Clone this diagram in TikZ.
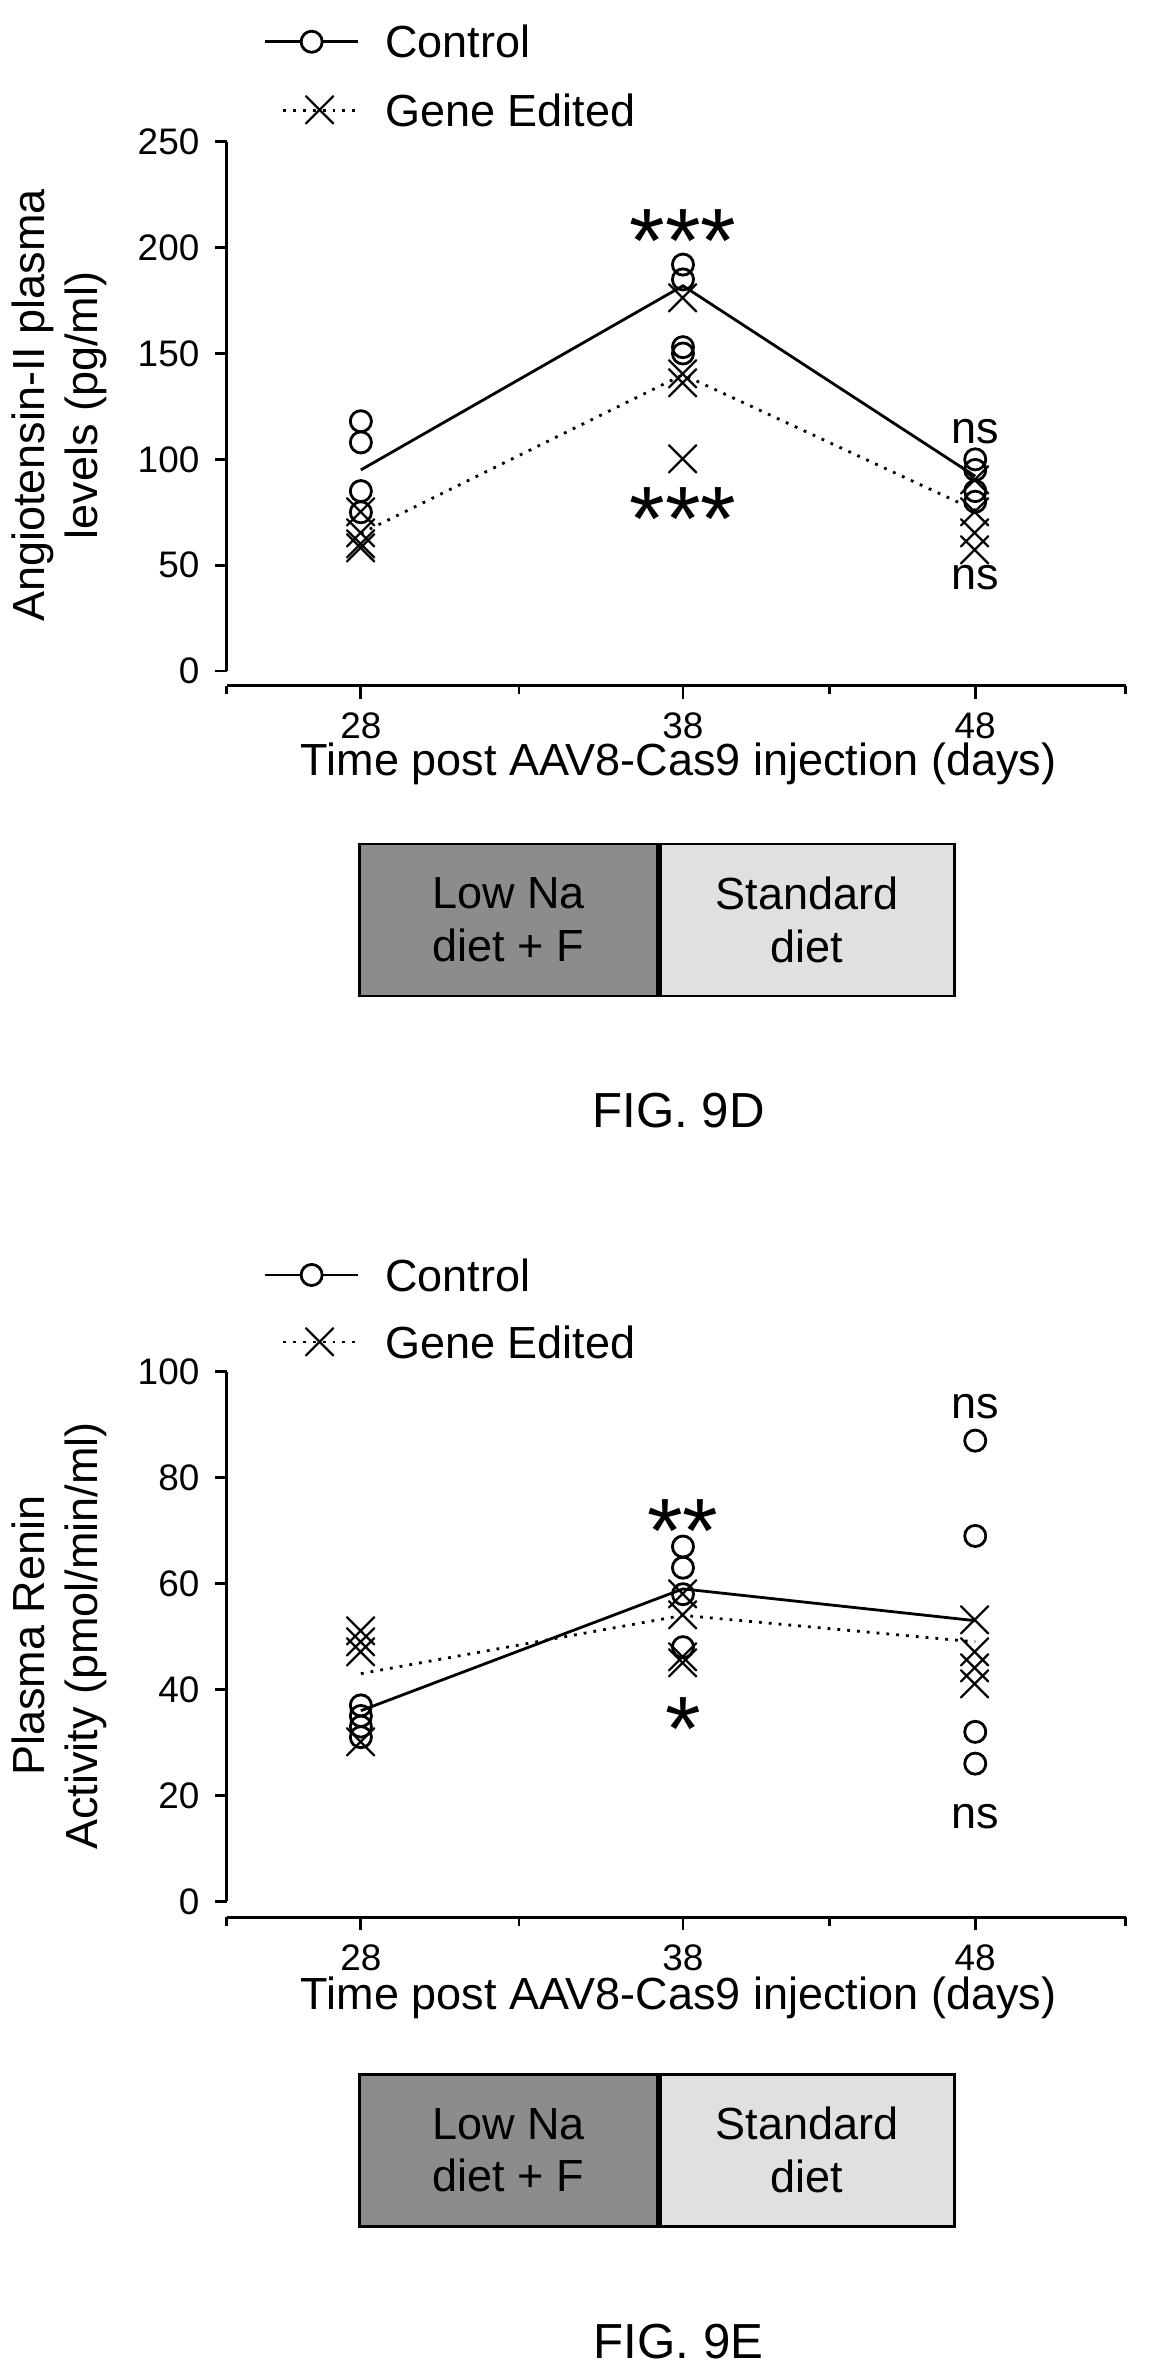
\documentclass[tikz,border=0pt]{standalone}
\usepackage{fontspec}
\setmainfont{Liberation Sans}
\usetikzlibrary{positioning}
\tikzset{
  ctrl/.style={draw,circle,inner sep=0pt,minimum size=6pt,thick},
  gene/.style={inner sep=0pt,font=\fontsize{16}{16}\selectfont},
  lbl/.style={font=\fontsize{12.8}{15}\selectfont,align=center},
  tick/.style={font=\fontsize{10.5}{12}\selectfont},
  stars/.style={font=\fontsize{26}{26}\selectfont},
}
\newcommand{\gx}{$\times$}
\begin{document}
\begin{tikzpicture}[x=0.01491cm,y=-0.01491cm]
\useasboundingbox (0,0) rectangle (778,1590);
% ---------- FIG 9D ----------
\begin{scope}[shift={(0,450)},y=0.02117cm]
  \draw[thick] (152,0) -- (152,250);
  \foreach \v in {0,50,...,250} {
    \draw[thick] (144,\v) -- (152,\v);
    \node[tick,left] at (142,\v) {\v};
  }
  \draw[thick] (152,-7) -- (755,-7);
  \foreach \x/\d in {242/28,458/38,654/48} {
    \draw[thick] (\x,-7) -- (\x,-13);
    \node[tick,below] at (\x,-14) {\d};
  }
  \foreach \x in {152,348,556,755} \draw[thick] (\x,-7) -- (\x,-11);
  % data
  \foreach \y in {118,108,85,75} \node[ctrl] at (242,\y) {};
  \foreach \y in {192,185,153,150} \node[ctrl] at (458,\y) {};
  \foreach \y in {100,95,85,80} \node[ctrl] at (654,\y) {};
  \foreach \y in {75,65,60,58} \node[gene] at (242,\y) {\gx};
  \foreach \y in {176,140,136,100} \node[gene] at (458,\y) {\gx};
  \foreach \y in {90,75,65,57} \node[gene] at (654,\y) {\gx};
  \coordinate (c1) at (242,95); \coordinate (c2) at (458,182); \coordinate (c3) at (654,92);
  \coordinate (g1) at (242,65); \coordinate (g2) at (458,140); \coordinate (g3) at (654,76);
  \draw[thick] (c1) -- (c2) -- (c3);
  \draw[thick,dotted] (g1) -- (g2) -- (g3);
  \node[stars] at (458,203) {***};
  \node[stars] at (458,72) {***};
  \node[lbl] at (654,113) {ns};
  \node[lbl] at (654,44) {ns};
\end{scope}
\node[lbl,rotate=90] at (40,272) {Angiotensin-II plasma\\levels (pg/ml)};
\node[lbl] at (455,512) {Time post AAV8-Cas9 injection (days)};
\draw[thick] (178,28) -- (240,28) node[ctrl,pos=0.5,fill=white] {};
\node[lbl,right] at (250,28) {Control};
\draw[thick,dotted] (190,74) -- (240,74) node[gene,pos=0.5] {\gx};
\node[lbl,right] at (250,74) {Gene Edited};
\node[draw,thick,fill=black!45,lbl,minimum width=2.98cm,minimum height=1.52cm,anchor=north west] (low1) at (240,565) {Low Na\\diet + F};
\node[draw,thick,fill=black!12,lbl,minimum width=2.94cm,minimum height=1.52cm,anchor=west] (std1) at (low1.east) {Standard\\diet};
\node[lbl,font=\fontsize{14}{16}\selectfont] at (455,745) {FIG. 9D};
% ---------- FIG 9E ----------
\begin{scope}[shift={(0,1275)},y=0.05293cm]
  \draw[thick] (152,0) -- (152,100);
  \foreach \v in {0,20,...,100} {
    \draw[thick] (144,\v) -- (152,\v);
    \node[tick,left] at (142,\v) {\v};
  }
  \draw[thick] (152,-3) -- (755,-3);
  \foreach \x/\d in {242/28,458/38,654/48} {
    \draw[thick] (\x,-3) -- (\x,-5.4);
    \node[tick,below] at (\x,-5.8) {\d};
  }
  \foreach \x in {152,348,556,755} \draw[thick] (\x,-3) -- (\x,-4.6);
  \foreach \y in {37,35,33,31} \node[ctrl] at (242,\y) {};
  \foreach \y in {67,63,58,48} \node[ctrl] at (458,\y) {};
  \foreach \y in {87,69,32,26} \node[ctrl] at (654,\y) {};
  \foreach \y in {51,49,47,30} \node[gene] at (242,\y) {\gx};
  \foreach \y in {58,54,46,45} \node[gene] at (458,\y) {\gx};
  \foreach \y in {53,47,44,41} \node[gene] at (654,\y) {\gx};
  \coordinate (c1) at (242,36); \coordinate (c2) at (458,59); \coordinate (c3) at (654,53);
  \coordinate (g1) at (242,43); \coordinate (g2) at (458,54); \coordinate (g3) at (654,49);
  \draw[thick] (c1) -- (c2) -- (c3);
  \draw[thick,dotted] (g1) -- (g2) -- (g3);
  \node[stars] at (458,70) {**};
  \node[stars] at (458,32.5) {*};
  \node[lbl] at (654,93.5) {ns};
  \node[lbl] at (654,16) {ns};
\end{scope}
\node[lbl,rotate=90] at (40,1097) {Plasma Renin\\Activity (pmol/min/ml)};
\node[lbl] at (455,1340) {Time post AAV8-Cas9 injection (days)};
\draw[thick] (178,855) -- (240,855) node[ctrl,pos=0.5,fill=white] {};
\node[lbl,right] at (250,855) {Control};
\draw[thick,dotted] (190,900) -- (240,900) node[gene,pos=0.5] {\gx};
\node[lbl,right] at (250,900) {Gene Edited};
\node[draw,thick,fill=black!45,lbl,minimum width=2.98cm,minimum height=1.52cm,anchor=north west] (low2) at (240,1390) {Low Na\\diet + F};
\node[draw,thick,fill=black!12,lbl,minimum width=2.94cm,minimum height=1.52cm,anchor=west] (std2) at (low2.east) {Standard\\diet};
\node[lbl,font=\fontsize{14}{16}\selectfont] at (455,1570) {FIG. 9E};
\end{tikzpicture}
\end{document}
